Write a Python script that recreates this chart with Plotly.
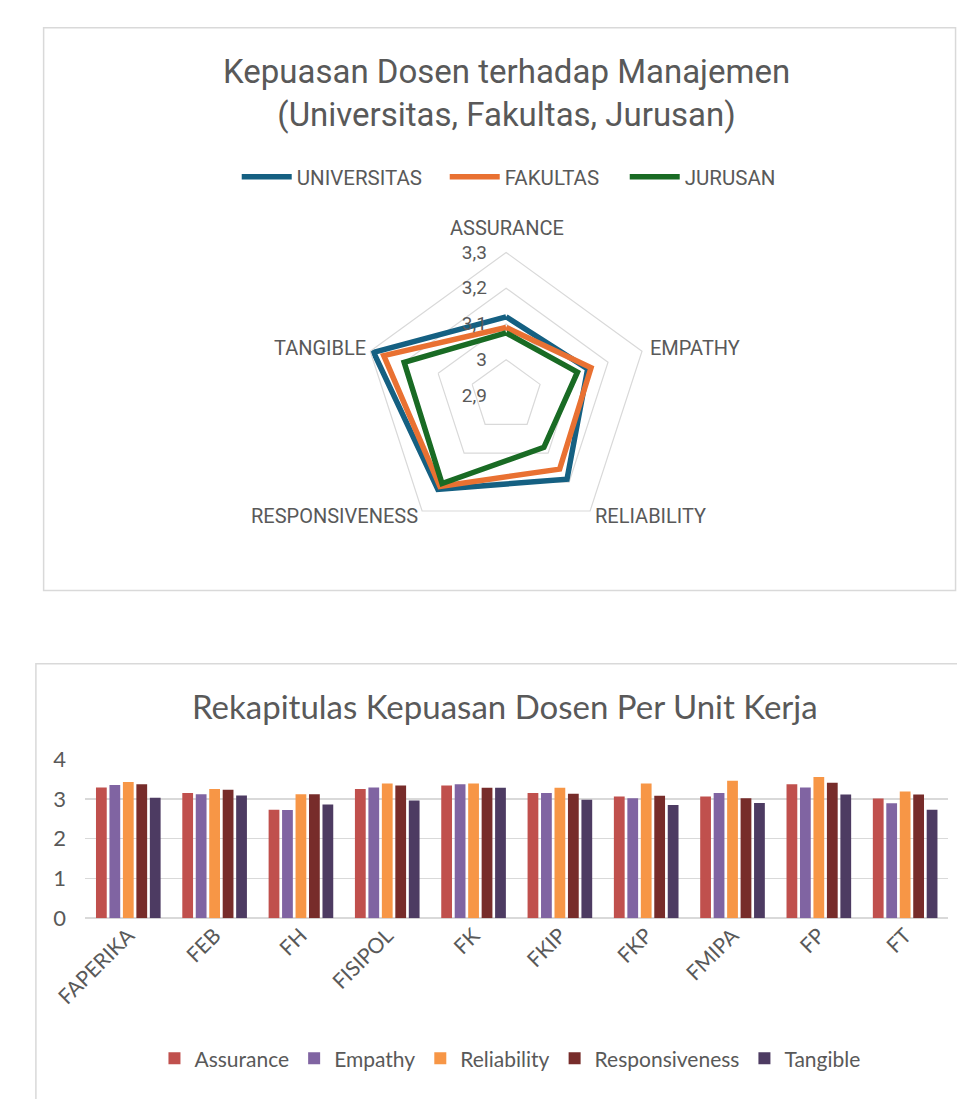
import plotly.graph_objects as go

# ---------------- Radar data ----------------
radar_categories = ["ASSURANCE", "EMPATHY", "RELIABILITY", "RESPONSIVENESS", "TANGIBLE"]
universitas = [3.12, 3.14, 3.19, 3.225, 3.29]
fakultas = [3.09, 3.15, 3.155, 3.215, 3.26]
jurusan = [3.075, 3.11, 3.08, 3.205, 3.20]
radar_tickvals = [2.9, 3.0, 3.1, 3.2, 3.3]
radar_ticktext = ["2,9", "3", "3,1", "3,2", "3,3"]

# ---------------- Bar data ----------------
units = ["FAPERIKA", "FEB", "FH", "FISIPOL", "FK", "FKIP", "FKP", "FMIPA", "FP", "FT"]
assurance = [3.29, 3.15, 2.73, 3.25, 3.34, 3.15, 3.06, 3.06, 3.37, 3.01]
empathy = [3.35, 3.12, 2.72, 3.29, 3.37, 3.15, 3.02, 3.15, 3.29, 2.89]
reliability = [3.43, 3.25, 3.12, 3.39, 3.39, 3.28, 3.39, 3.46, 3.55, 3.19]
responsiveness = [3.37, 3.23, 3.12, 3.34, 3.28, 3.13, 3.08, 3.02, 3.41, 3.11]
tangible = [3.03, 3.09, 2.86, 2.96, 3.28, 2.98, 2.85, 2.90, 3.11, 2.73]

# figure fills the whole 957x1099 page (body margin removed below)
W, H = 957, 1099


def px_x(x):
    return x / W


def px_y(y):
    return 1 - y / H


TXT = "#595959"
GRID = "#d9d9d9"
RFONT = "Roboto, Liberation Sans, sans-serif"
BFONT = "Lato, Open Sans, sans-serif"

fig = go.Figure()

radar_series = [("UNIVERSITAS", universitas, "#156082", 143),
                ("FAKULTAS", fakultas, "#E97132", 115),
                ("JURUSAN", jurusan, "#196B24", 100)]
for name, vals, col, lw in radar_series:
    fig.add_trace(go.Scatterpolar(
        r=vals + vals[:1], theta=radar_categories + radar_categories[:1],
        mode="lines", name=name, line=dict(color=col, width=5.5),
        subplot="polar", legend="legend", legendwidth=lw, hoverinfo="skip"))

bar_series = [("Assurance", assurance, "#C0504D"),
              ("Empathy", empathy, "#8064A2"),
              ("Reliability", reliability, "#F79646"),
              ("Responsiveness", responsiveness, "#772C2A"),
              ("Tangible", tangible, "#4D3B62")]
for name, vals, col in bar_series:
    fig.add_trace(go.Bar(x=units, y=vals, name=name, marker=dict(color=col, line=dict(width=0)),
                         xaxis="x", yaxis="y", legend="legend2"))

cx, cy, R = 490, 391, 148

label_pos = {"ASSURANCE": (491, 219, "center"), "EMPATHY": (637, 342, "left"),
             "RELIABILITY": (580, 515, "left"), "RESPONSIVENESS": (401, 515, "right"),
             "TANGIBLE": (347, 342, "right")}
annotations = [
    dict(text="Kepuasan Dosen terhadap Manajemen<br>(Universitas, Fakultas, Jurusan)",
         x=px_x(490), y=px_y(81), xref="paper", yref="paper", showarrow=False,
         xanchor="center", yanchor="middle", align="center",
         font=dict(family=RFONT, size=33, color=TXT)),
    dict(text="Rekapitulas Kepuasan Dosen Per Unit Kerja",
         x=px_x(489), y=px_y(709), xref="paper", yref="paper", showarrow=False,
         xanchor="center", yanchor="middle",
         font=dict(family=BFONT, size=33, color=TXT)),
]
for cat in radar_categories:
    lx, ly, anc = label_pos[cat]
    annotations.append(dict(text=cat, x=px_x(lx), y=px_y(ly), xref="paper", yref="paper",
                            showarrow=False, xanchor=anc, yanchor="middle",
                            font=dict(family=RFONT, size=20, color=TXT)))

fig.update_layout(
    width=W, height=H, margin=dict(l=0, r=0, t=0, b=0),
    paper_bgcolor="white", plot_bgcolor="white",
    showlegend=True, hovermode=False,
    polar=dict(
        domain=dict(x=[px_x(cx - R), px_x(cx + R)], y=[px_y(cy + R), px_y(cy - R)]),
        gridshape="linear", bgcolor="white",
        angularaxis=dict(rotation=90, direction="clockwise", showgrid=False,
                         showline=True, linecolor=GRID, linewidth=1.2, ticks="",
                         showticklabels=False),
        radialaxis=dict(range=[2.9, 3.3], tickvals=radar_tickvals, ticktext=radar_ticktext,
                        angle=90, tickangle=90, side="counterclockwise", showline=False,
                        gridcolor=GRID, gridwidth=1.2, ticks="outside", ticklen=12,
                        tickcolor="rgba(0,0,0,0)",
                        tickfont=dict(family=RFONT, size=19, color=TXT)),
    ),
    xaxis=dict(domain=[px_x(54), px_x(948)], anchor="y", tickangle=-45,
               tickfont=dict(family=BFONT, size=21, color=TXT), showgrid=False,
               showline=False, ticks=""),
    yaxis=dict(domain=[px_y(927), px_y(764)], anchor="x", range=[0, 4], dtick=1,
               gridcolor=GRID, gridwidth=1.5, zeroline=True, zerolinecolor=GRID,
               zerolinewidth=1.5, tickfont=dict(family=BFONT, size=22, color=TXT),
               ticks="", ticklabelstandoff=18),
    barmode="group", bargap=0.22, bargroupgap=0.2,
    legend=dict(orientation="h", x=px_x(211), xanchor="left", y=px_y(167), yanchor="middle",
                font=dict(family=RFONT, size=20.5, color=TXT), itemwidth=50,
                entrywidthmode="pixels",
                bgcolor="rgba(0,0,0,0)", traceorder="normal"),
    legend2=dict(orientation="h", x=px_x(494), xanchor="center", y=px_y(1071), yanchor="middle",
                 font=dict(family=BFONT, size=21, color=TXT), bgcolor="rgba(0,0,0,0)",
                 traceorder="normal", itemwidth=30),
    shapes=[
        dict(type="rect", xref="paper", yref="paper", x0=px_x(11), x1=px_x(955.5),
             y0=px_y(591), y1=px_y(14), line=dict(color=GRID, width=1.5), layer="below"),
        dict(type="rect", xref="paper", yref="paper", x0=px_x(3), x1=1.05,
             y0=-0.05, y1=px_y(666), line=dict(color=GRID, width=1.5), layer="below"),
    ],
    annotations=annotations,
)

fig.write_html("out.html", config={"displayModeBar": False, "staticPlot": True},
               post_script="document.body.style.margin='0';document.body.style.overflow='hidden';")
